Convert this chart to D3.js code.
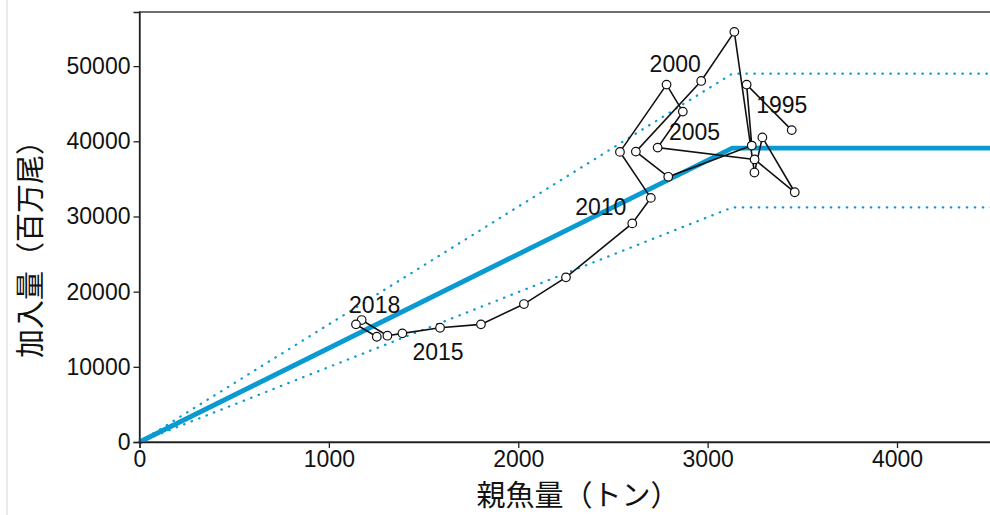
<!DOCTYPE html>
<html>
<head>
<meta charset="utf-8">
<script src="https://cdn.jsdelivr.net/npm/d3@7"></script>
<style>
  body { margin: 0; background: #fff; }
  text { font-family: "Liberation Sans", Arial, sans-serif; }
  .jp { font-family: "Noto Sans CJK JP", sans-serif; }
</style>
</head>
<body>
<div id="chart"></div>
<script>
// Recruitment vs spawning stock, 1995-2020
const years = [1995, 1996, 1997, 1998, 1999, 2000, 2001, 2002, 2003, 2004,
               2005, 2006, 2007, 2008, 2009, 2010, 2011, 2012, 2013, 2014,
               2015, 2016, 2017, 2018, 2019, 2020];
const ssb = [3444, 3206, 3233, 2792, 2621, 2966, 3141, 3247, 3289, 3460,
             3248, 2736, 2869, 2783, 2537, 2700, 2602, 2252, 2030, 1803,
             1587, 1388, 1309, 1173, 1143, 1253];
const recruit = [41490, 47540, 39430, 35280, 38630, 48030, 54560, 35840, 40520, 33220,
                 37590, 39160, 43950, 47540, 38590, 32470, 29080, 21900, 18350, 15650,
                 15200, 14450, 14140, 16220, 15650, 14000];
const labelYears = [1995, 2000, 2005, 2010, 2015, 2018];

// Hockey-stick fit and its band
const hsSsb = [0, 3130, 4500];
const hsMid = [0, 39100, 39100];
const hsUpper = [0, 49000, 49000];
const hsLower = [0, 31200, 31200];

const xTicks = [0, 1000, 2000, 3000, 4000];
const yTicks = [0, 10000, 20000, 30000, 40000, 50000];

const W = 990, H = 515;
const margin = { top: 12, left: 139.5, bottom: 73 };
const plotRight = 991.7;

const svg = d3.select("#chart")
  .append("svg")
    .attr("width", W)
    .attr("height", H);

// faint page edge on the left
svg.append("line")
  .attr("x1", 7).attr("x2", 7)
  .attr("y1", 0).attr("y2", H)
  .attr("stroke", "#e2e2e2")
  .attr("stroke-width", 1.5);

const x = d3.scaleLinear().domain([0, 4500]).range([margin.left, plotRight]);
const y = d3.scaleLinear().domain([0, 57200]).range([H - margin.bottom, margin.top]);

const blue = "#0a9ad2";

// panel border
svg.append("rect")
  .attr("x", margin.left)
  .attr("y", margin.top)
  .attr("width", 1000)
  .attr("height", y(0) - margin.top)
  .attr("fill", "none")
  .attr("stroke", "#222")
  .attr("stroke-width", 1.3);

const hsLine = vals => d3.line()
  .x((d, i) => x(hsSsb[i]))
  .y(d => y(d))(vals);

svg.append("path")
  .attr("d", hsLine(hsUpper))
  .attr("fill", "none")
  .attr("stroke", blue)
  .attr("stroke-width", 2.2)
  .attr("stroke-linecap", "round")
  .attr("stroke-dasharray", "0.5,7.5");

svg.append("path")
  .attr("d", hsLine(hsLower))
  .attr("fill", "none")
  .attr("stroke", blue)
  .attr("stroke-width", 2.2)
  .attr("stroke-linecap", "round")
  .attr("stroke-dasharray", "0.5,7.5");

svg.append("path")
  .attr("d", hsLine(hsMid))
  .attr("fill", "none")
  .attr("stroke", blue)
  .attr("stroke-width", 4.8)
  .attr("stroke-linejoin", "round");

// trajectory
const data = years.map((yr, i) => ({ year: yr, s: ssb[i], r: recruit[i] }));

svg.append("path")
  .datum(data)
  .attr("d", d3.line().x(d => x(d.s)).y(d => y(d.r)))
  .attr("fill", "none")
  .attr("stroke", "#111")
  .attr("stroke-width", 1.6);

svg.selectAll("circle.pt")
  .data(data)
  .enter().append("circle")
    .attr("class", "pt")
    .attr("cx", d => x(d.s))
    .attr("cy", d => y(d.r))
    .attr("r", 4.3)
    .attr("fill", "#fff")
    .attr("stroke", "#111")
    .attr("stroke-width", 1.2);

// year labels, nudged away from the points
const nudge = {
  1995: [-10, -25], 2000: [-26, -17], 2005: [-60, -28],
  2010: [-50, 9], 2015: [-2, 24], 2018: [13, -15]
};
svg.selectAll("text.yr")
  .data(data.filter(d => labelYears.includes(d.year)))
  .enter().append("text")
    .attr("class", "yr")
    .attr("x", d => x(d.s) + nudge[d.year][0])
    .attr("y", d => y(d.r) + nudge[d.year][1])
    .attr("dy", "0.36em")
    .attr("text-anchor", "middle")
    .style("font-size", "23px")
    .attr("fill", "#111")
    .text(d => d.year);

// axes
const xAxis = svg.append("g")
  .attr("transform", `translate(0,${y(0)})`)
  .call(d3.axisBottom(x).tickValues(xTicks).tickSize(6).tickPadding(3).tickFormat(d3.format("d")));
const yAxis = svg.append("g")
  .attr("transform", `translate(${margin.left},0)`)
  .call(d3.axisLeft(y).tickValues(yTicks).tickSize(6).tickPadding(3).tickFormat(d3.format("d")));

[xAxis, yAxis].forEach(g => {
  g.select(".domain").attr("stroke", "#222").attr("stroke-width", 1.3);
  g.selectAll(".tick line").attr("stroke", "#222").attr("stroke-width", 1.3);
  g.selectAll(".tick text")
    .style("font-size", "23px")
    .style("font-family", "'Liberation Sans', Arial, sans-serif")
    .attr("fill", "#111");
});

// axis titles
svg.append("text")
  .attr("class", "jp")
  .attr("x", 578)
  .attr("y", 506)
  .attr("text-anchor", "middle")
  .style("font-size", "29px")
  .attr("fill", "#111")
  .text("親魚量（トン）");

svg.append("text")
  .attr("class", "jp")
  .attr("transform", "translate(41,242) rotate(-90)")
  .attr("text-anchor", "middle")
  .style("font-size", "29px")
  .attr("fill", "#111")
  .text("加入量（百万尾）");
</script>
</body>
</html>
